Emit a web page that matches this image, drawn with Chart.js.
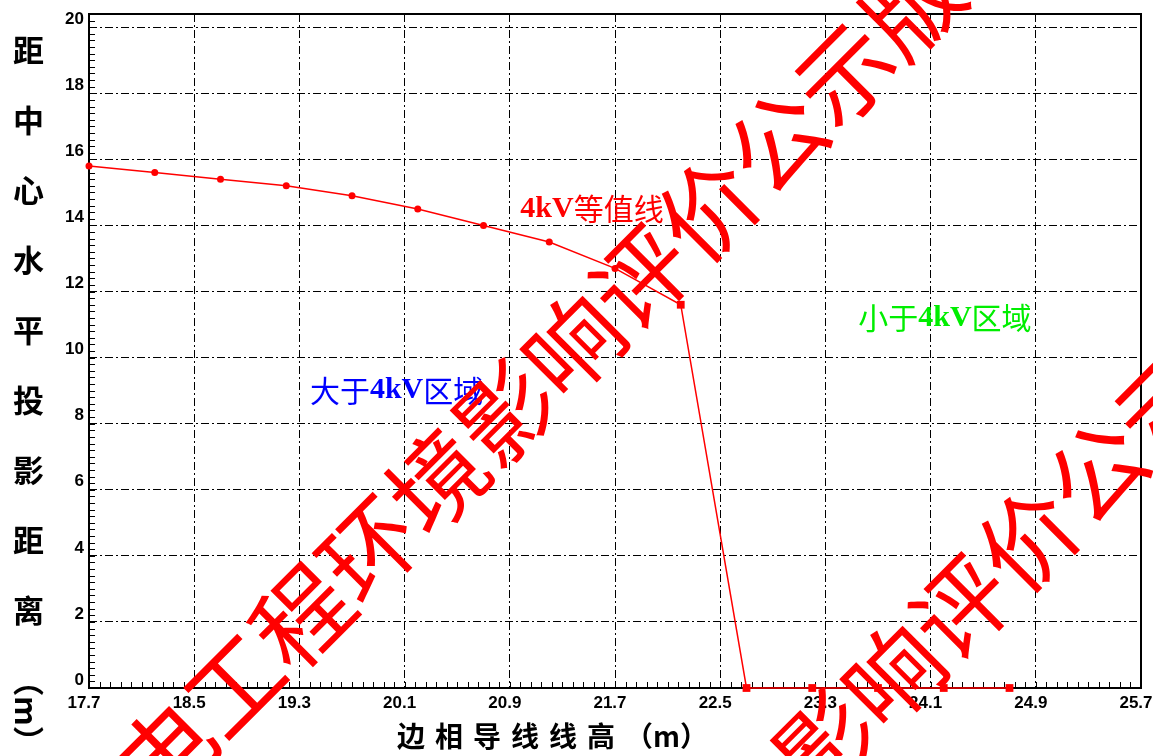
<!DOCTYPE html>
<html>
<head>
<meta charset="utf-8">
<script src="https://cdn.jsdelivr.net/npm/chart.js@4.4.0/dist/chart.umd.min.js"></script>
<style>
body { margin: 0; background: #fff; }
#wrap { position: relative; width: 1153px; height: 756px; overflow: hidden; }
#wrap canvas { position: absolute; left: 0; top: 0; }
#ytitle { position: absolute; left: 13px; top: 35px; height: 760px; writing-mode: vertical-rl; text-orientation: mixed;
  white-space: nowrap; font: bold 31px "Noto Sans CJK SC"; letter-spacing: 39px; line-height: 31px; color: #000; }
#ytitle span { letter-spacing: 0; }
#xtitle { position: absolute; left: 397px; top: 721px; font: bold 28px "Noto Sans CJK SC";
  letter-spacing: 10px; line-height: 28px; white-space: nowrap; color: #000; }
#xtitle span { letter-spacing: 0; }
</style>
</head>
<body>
<div id="wrap">
  <canvas id="chart" width="1153" height="756"></canvas>
  <div id="ytitle">距中心水平投影距离<span>（m）</span></div>
  <div id="xtitle">边相导线线高<span>（m）</span></div>
</div>
<script>
// conductor height (m) vs horizontal distance of the 4kV contour from the centre (m)
const heights   = [17.7, 18.2, 18.7, 19.2, 19.7, 20.2, 20.7, 21.2, 21.7, 22.2, 22.7, 23.2, 23.7, 24.2, 24.7];
const distances = [15.8, 15.6, 15.4, 15.2, 14.9, 14.5, 14.0, 13.5, 12.7, 11.6, 0, 0, 0, 0, 0];
const xTicks = [17.7, 18.5, 19.3, 20.1, 20.9, 21.7, 22.5, 23.3, 24.1, 24.9, 25.7];
const yTicks = [0, 2, 4, 6, 8, 10, 12, 14, 16, 18, 20];
const noteTexts = ['4kV等值线', '小于4kV区域', '大于4kV区域'];
const watermark = '输变电工程环境影响评价公示版';

// where the notes sit (data units) and their colours
const notes = [
  {text: noteTexts[0], x: 20.98, y: 14.5, color: '#ff0000'},
  {text: noteTexts[1], x: 23.55, y: 11.2, color: '#00ee00'},
  {text: noteTexts[2], x: 19.38, y: 9.0,  color: '#0000ff'}
];

const tickFont = {family: '"Liberation Sans", Arial, sans-serif', size: 17, weight: 'bold'};
const dashDot = [8, 3, 2, 3];

var extras = {
  id: 'extras',
  beforeDatasetsDraw(chart) {
    const {ctx, chartArea: a, scales: {x, y}} = chart;
    ctx.save();
    ctx.strokeStyle = '#000';
    ctx.lineWidth = 1;
    ctx.beginPath();
    // minor ticks, pointing inward
    for (let i = 0; ; i++) {
      const v = x.min + i * 0.08;
      if (v > x.max + 1e-6) break;
      const px = Math.round(x.getPixelForValue(v)) + 0.5;
      ctx.moveTo(px, a.bottom); ctx.lineTo(px, a.bottom - 6);
    }
    for (let i = 0; ; i++) {
      const v = i * 0.2;
      if (v > y.max + 1e-6) break;
      const py = Math.round(y.getPixelForValue(v)) + 0.5;
      ctx.moveTo(a.left, py); ctx.lineTo(a.left + 6, py);
    }
    ctx.stroke();
    ctx.lineWidth = 2;
    ctx.strokeRect(a.left, a.top, a.right - a.left, a.bottom - a.top);
    ctx.restore();
  },
  afterDraw(chart) {
    const {ctx, scales: {x, y}} = chart;
    ctx.save();
    ctx.textBaseline = 'middle';
    ctx.textAlign = 'left';
    notes.forEach(n => {
      let px = x.getPixelForValue(n.x);
      const py = y.getPixelForValue(n.y);
      ctx.fillStyle = n.color;
      n.text.split(/(4kV)/).forEach(part => {
        if (!part) return;
        ctx.font = part === '4kV' ? 'bold 30px "Liberation Serif", serif' : '30px "Noto Sans CJK SC"';
        ctx.fillText(part, px, py);
        px += ctx.measureText(part).width;
      });
    });
    // diagonal watermark, two rows
    ctx.fillStyle = '#ff0000';
    ctx.font = '96px "Noto Sans CJK SC"';
    [[-4, 922], [316, 1252]].forEach(p => {
      ctx.save();
      ctx.translate(p[0], p[1]);
      ctx.rotate(-Math.PI / 4);
      ctx.fillText(watermark, 0, 0);
      ctx.restore();
    });
    ctx.restore();
  }
};

var ctx = document.getElementById('chart');
var myChart = new Chart(ctx, {
  type: 'line',
  data: {
    datasets: [{
      data: heights.map((h, i) => ({x: h, y: distances[i]})),
      borderColor: '#ff0000',
      backgroundColor: '#ff0000',
      borderWidth: 1.5,
      tension: 0,
      pointStyle: c => c.dataIndex < 9 ? 'circle' : 'rect',
      pointRadius: c => c.dataIndex < 9 ? 3.5 : 5.5,
      pointBorderWidth: 0,
      clip: false
    }]
  },
  options: {
    responsive: false,
    animation: false,
    layout: {padding: {top: 14, right: 12, left: 0, bottom: 0}},
    plugins: {legend: {display: false}, tooltip: {enabled: false}},
    scales: {
      x: {
        type: 'linear',
        min: 17.7,
        max: 25.7,
        afterBuildTicks: s => { s.ticks = xTicks.map(v => ({value: v})); },
        afterFit: s => { s.height = 68; s.paddingLeft = 0; s.paddingRight = 0; },
        ticks: {
          font: tickFont, color: '#000', padding: 5, labelOffset: -5,
          maxRotation: 0, autoSkip: false,
          callback: v => v.toFixed(1)
        },
        grid: {color: '#000', lineWidth: 1, drawTicks: false},
        border: {display: false, dash: dashDot}
      },
      y: {
        min: 0,
        max: 20.4,
        afterBuildTicks: s => { s.ticks = yTicks.map(v => ({value: v})); },
        afterFit: s => { s.width = 89; s.paddingTop = 0; s.paddingBottom = 0; },
        ticks: {font: tickFont, color: '#000', padding: 5, labelOffset: -8},
        grid: {color: '#000', lineWidth: 1, drawTicks: false},
        border: {display: false, dash: dashDot}
      }
    }
  },
  plugins: [extras]
});
</script>
</body>
</html>
